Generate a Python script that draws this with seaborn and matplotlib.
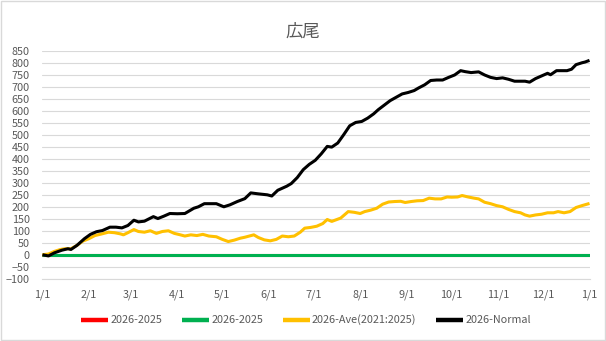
import numpy as np
import pandas as pd
import matplotlib
matplotlib.use("Agg")
import matplotlib.pyplot as plt
import matplotlib.dates as mdates
from matplotlib.ticker import FuncFormatter, MultipleLocator
from matplotlib.patches import Rectangle
import seaborn as sns

# ---------------- data ----------------
title = "広尾"
start_date = "2026-01-01"
end_date = "2027-01-01"

# day offsets from 2026-01-01 and values
normal_days = [0, 4, 8, 13, 17, 19, 23, 28, 32, 36, 40, 45, 49, 53, 57, 61, 64, 68, 74, 77,
               81, 85, 90, 95, 101, 104, 108, 112, 116, 121, 125, 130, 135, 139, 144, 150,
               153, 157, 163, 166, 170, 174, 178, 182, 186, 190, 193, 197, 201, 205, 209,
               213, 217, 221, 224, 228, 232, 236, 240, 244, 248, 251, 255, 259, 263, 267,
               271, 275, 279, 282, 286, 291, 295, 299, 303, 307, 311, 315, 319, 322, 325,
               329, 333, 337, 339, 343, 347, 350, 353, 356, 360, 362, 365]
normal_vals = [0, -5, 8, 19, 25, 22, 39, 67, 85, 96, 101, 115, 115, 112, 122, 144, 137, 140,
               159, 151, 161, 172, 171, 172, 194, 200, 213, 213, 213, 200, 208, 222, 234, 258,
               254, 250, 245, 269, 286, 297, 322, 355, 377, 394, 421, 452, 449, 466, 501, 538,
               552, 556, 570, 588, 605, 624, 643, 657, 671, 677, 685, 696, 709, 727, 729, 729,
               740, 750, 768, 764, 760, 763, 750, 740, 735, 738, 732, 724, 724, 724, 720, 735,
               746, 757, 751, 768, 768, 768, 774, 793, 801, 804, 811]

ave_days = [0, 4, 8, 12, 15, 19, 23, 27, 31, 35, 39, 44, 48, 52, 54, 57, 61, 64, 68, 72,
            76, 80, 84, 88, 92, 95, 99, 103, 107, 111, 116, 120, 124, 128, 132, 135, 141,
            144, 148, 152, 156, 160, 164, 168, 172, 175, 179, 183, 187, 190, 193, 199, 204,
            208, 212, 215, 219, 223, 227, 231, 235, 239, 242, 246, 250, 254, 258, 262, 266,
            270, 273, 277, 280, 284, 288, 291, 295, 299, 303, 307, 311, 315, 319, 322, 325,
            329, 333, 337, 341, 344, 348, 352, 356, 360, 365]
ave_vals = [0, 3, 14, 22, 25, 25, 39, 57, 67, 80, 86, 94, 92, 87, 83, 92, 105, 97, 94, 100,
            89, 97, 100, 89, 83, 78, 83, 80, 85, 78, 75, 64, 55, 61, 69, 73, 83, 72, 62, 58,
            64, 78, 75, 78, 94, 111, 114, 119, 130, 147, 139, 153, 180, 177, 172, 180, 186,
            194, 211, 220, 222, 223, 218, 222, 225, 226, 236, 233, 233, 241, 240, 241, 247,
            241, 236, 233, 219, 213, 205, 200, 189, 180, 175, 166, 161, 166, 169, 175, 175,
            180, 175, 180, 197, 205, 214]

diff_days = [0, 365]
diff_vals = [0, 0]

series_names = ["2026-2025", "2026-2025", "2026-Ave(2021:2025)", "2026-Normal"]
series_colors = ["#FF0000", "#00B050", "#FFC000", "#000000"]

y_ticks = list(range(-100, 851, 50))

# ---------------- build frame ----------------
base = pd.Timestamp(start_date)
def frame(days, vals, name):
    return pd.DataFrame({"date": base + pd.to_timedelta(days, unit="D"),
                         "value": vals, "series": name})

frames = [frame(diff_days, diff_vals, series_names[0]),
          frame(diff_days, diff_vals, series_names[1]),
          frame(ave_days, ave_vals, series_names[2]),
          frame(normal_days, normal_vals, series_names[3])]

# ---------------- style ----------------
sns.set_style("white")
plt.rcParams["font.family"] = ["Noto Sans CJK JP", "DejaVu Sans"]

fig = plt.figure(figsize=(6.06, 3.41), dpi=100)
ax = fig.add_axes([0.0701, 0.1827, 0.9027, 0.6677])

for df, name, col in zip(frames, series_names, series_colors):
    sns.lineplot(data=df, x="date", y="value", ax=ax, color=col, linewidth=2.2,
                 label=name, solid_joinstyle="round", solid_capstyle="butt")

ax.set_xlim(pd.Timestamp(start_date), pd.Timestamp(end_date))
ax.set_ylim(-100, 850)
ax.set_yticks(y_ticks)
ax.yaxis.grid(True, color="#D9D9D9", linewidth=0.8)
ax.xaxis.grid(False)
ax.set_axisbelow(True)

ax.xaxis.set_major_locator(mdates.MonthLocator())
ax.xaxis.set_major_formatter(FuncFormatter(
    lambda v, p: f"{mdates.num2date(v).month}/{mdates.num2date(v).day}"))

for s in ["top", "right", "left"]:
    ax.spines[s].set_visible(False)
ax.spines["bottom"].set_color("#D9D9D9")
ax.spines["bottom"].set_linewidth(0.8)

ax.tick_params(axis="x", length=3, width=0.8, color="#D9D9D9", colors="#595959",
               labelsize=7.8, pad=5, direction="out", labelcolor="#595959")
ax.tick_params(axis="y", length=0, labelsize=7.8, pad=9, labelcolor="#595959")
ax.set_xlabel("")
ax.set_ylabel("")

fig.suptitle(title, x=0.5, y=0.935, fontsize=12.5, color="#595959")

leg = ax.legend(loc="center", bbox_to_anchor=(0.505, 0.0616), bbox_transform=fig.transFigure,
                ncol=4, frameon=False, fontsize=7.8, handlelength=2.5, handletextpad=0.2,
                columnspacing=1.8)
for t in leg.get_texts():
    t.set_color("#595959")
for h in leg.get_lines():
    h.set_linewidth(3.2)

fig.patches.append(Rectangle((0.001, 0.002), 0.997, 0.995, transform=fig.transFigure,
                             fill=False, edgecolor="#D9D9D9", linewidth=1))

fig.savefig("out.png", dpi=100, facecolor="white")
